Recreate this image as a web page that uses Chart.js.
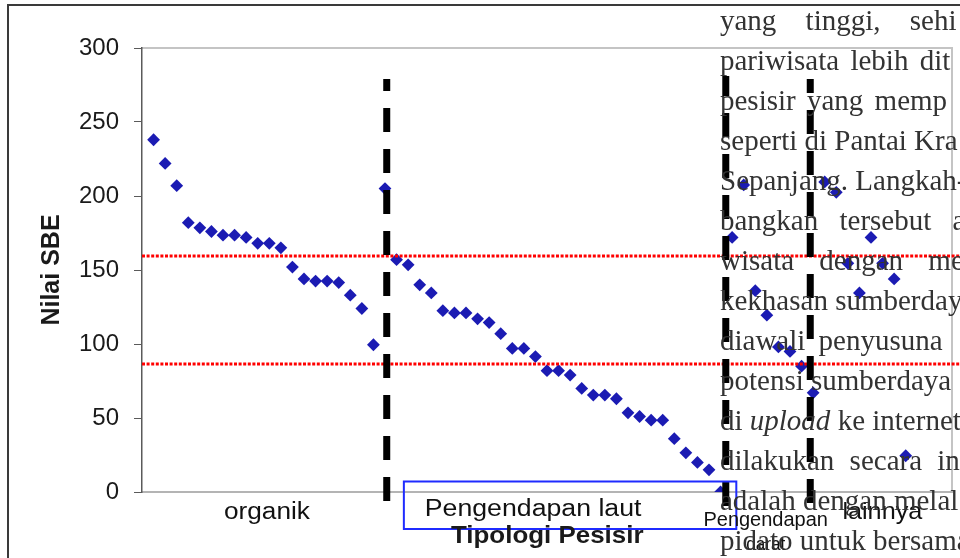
<!DOCTYPE html>
<html>
<head>
<meta charset="utf-8">
<script src="https://cdn.jsdelivr.net/npm/chart.js@4.4.1/dist/chart.umd.min.js"></script>
<style>
  html, body { margin: 0; padding: 0; background: #fff; overflow: hidden; }
  #wrap { position: relative; width: 960px; height: 558px; overflow: hidden; }
  #sbeChart { position: absolute; left: 0; top: 0; }
  #pageText {
    position: absolute; left: 720px; top: 0;
    font-family: 'Liberation Serif', 'Times New Roman', serif;
    font-size: 29px; line-height: 40px; color: #333;
    white-space: pre; pointer-events: none;
  }
</style>
</head>
<body>
<div id="wrap">
  <canvas id="sbeChart" width="960" height="558"></canvas>
  <div id="pageText"><div style="word-spacing:22px">yang tinggi, sehi</div><div style="word-spacing:4px">pariwisata lebih dit</div><div style="word-spacing:4px">pesisir yang memp</div><div>seperti di Pantai Kra</div><div>Sepanjang. Langkah-</div><div style="word-spacing:14px">bangkan tersebut a</div><div style="word-spacing:18px">wisata dengan me</div><div>kekhasan sumberday</div><div style="word-spacing:6px">diawali penyusuna</div><div>potensi sumberdaya</div><div>di <i>upload</i> ke internet,</div><div style="word-spacing:8px">dilakukan secara in</div><div>adalah dengan melal</div><div>pidato untuk bersama</div></div>
</div>
<script>
// Tipologi pesisir and the SBE value of every site, in plotted order
const categories = ['organik', 'Pengendapan laut', 'Pengendapan darat', 'lainnya'];
const organikValues = [238, 222, 207, 182, 178.5, 176, 173.5, 173.5, 172, 168, 168, 165,
  152, 144, 142.5, 142.5, 141.5, 133, 124, 99.5];
const lautValues = [205, 157, 153.5, 140, 134.5, 122.5, 121, 121, 117, 114.5, 107, 97, 97,
  91.5, 82, 82, 79, 70, 65.5, 65.5, 63, 53.5, 51, 48.5, 48.5, 36, 26.5, 20, 15, 0];
const daratValues = [172, 207.5, 136, 119.5, 98, 95, 85, 67];
const lainnyaValues = [209.5, 202.5, 154.5, 134.5, 172, 154.5, 144, 24.5];
const yTicks = [0, 50, 100, 150, 200, 250, 300];
const sbeThresholds = [159.5, 86.5];

// one point per site, x = running site number
const points = [];
[organikValues, lautValues, daratValues, lainnyaValues].forEach(vals => {
  vals.forEach(v => points.push({ x: points.length, y: v }));
});

// drawn extras (in data units on the x axis)
const dividers = [
  { x: 20.15, top: 279, bottom: -12, offset: 12 },
  { x: 49.45, top: 281, bottom: -10, offset: 4 },
  { x: 56.75, top: 279, bottom: -10, offset: 10 }
];
const categoryLabels = [
  { lines: [categories[0]], x: 9.8, dy: [26.5], size: 23, sx: 1.14 },
  { lines: [categories[1]], x: 32.8, dy: [23.5], size: 23, sx: 1.16 },
  { lines: categories[2].split(' '), x: 52.9, dy: [34, 58], size: 20, sx: 1.0 },
  { lines: [categories[3]], x: 62.98, dy: [26.5], size: 24, sx: 1.05 }
];
const SANS = "'Liberation Sans', Arial, sans-serif";

function stretchedText(ctx, text, cx, baseline, font, sx) {
  ctx.save();
  ctx.font = font;
  ctx.translate(cx, baseline);
  ctx.scale(sx, 1);
  ctx.textAlign = 'center';
  ctx.textBaseline = 'alphabetic';
  ctx.fillText(text, 0, 0);
  ctx.restore();
}

const decorations = {
  id: 'decorations',
  beforeDraw(chart) {
    const ctx = chart.ctx;
    const a = chart.chartArea;
    ctx.save();
    // outer frame of the pasted chart
    ctx.strokeStyle = '#3a3a3a';
    ctx.lineWidth = 2;
    ctx.strokeRect(8, 5, 1000, 1000);
    // top and right edges of the plot area
    ctx.strokeStyle = '#c4c4c4';
    ctx.lineWidth = 2;
    ctx.beginPath();
    ctx.moveTo(a.left, a.top);
    ctx.lineTo(a.right, a.top);
    ctx.lineTo(a.right, a.bottom);
    ctx.stroke();
    ctx.restore();
  },
  afterDatasetsDraw(chart) {
    const ctx = chart.ctx;
    const { x, y } = chart.scales;
    ctx.save();
    // red dotted limits
    ctx.strokeStyle = '#ff0000';
    ctx.lineWidth = 3;
    ctx.setLineDash([3, 1.6]);
    sbeThresholds.forEach(t => {
      const py = y.getPixelForValue(t);
      ctx.beginPath();
      ctx.moveTo(chart.chartArea.left, py);
      ctx.lineTo(chart.width, py);
      ctx.stroke();
    });
    // black dashed group dividers
    ctx.strokeStyle = '#000';
    ctx.lineWidth = 7;
    ctx.setLineDash([24, 17]);
    dividers.forEach(d => {
      const px = x.getPixelForValue(d.x);
      ctx.lineDashOffset = d.offset;
      ctx.beginPath();
      ctx.moveTo(px, y.getPixelForValue(d.top));
      ctx.lineTo(px, y.getPixelForValue(d.bottom));
      ctx.stroke();
    });
    ctx.restore();
  },
  afterDraw(chart) {
    const ctx = chart.ctx;
    const { x } = chart.scales;
    const bottom = chart.chartArea.bottom;
    ctx.save();
    // box round "Pengendapan laut"
    ctx.strokeStyle = '#1f2bff';
    ctx.lineWidth = 2;
    const bx0 = x.getPixelForValue(21.63);
    const bx1 = x.getPixelForValue(50.36);
    ctx.strokeRect(bx0, bottom - 10.5, bx1 - bx0, 47.5);
    ctx.fillStyle = '#111';
    categoryLabels.forEach(l => {
      l.lines.forEach((t, i) => {
        const size = i === 0 ? l.size : 18;
        stretchedText(ctx, t, x.getPixelForValue(l.x), bottom + l.dy[i],
          size + 'px ' + SANS, i === 0 ? l.sx : 0.95);
      });
    });
    // axis title of the category axis
    ctx.fillStyle = '#1a1a1a';
    stretchedText(ctx, 'Tipologi Pesisir', x.getPixelForValue(34.02), bottom + 51,
      'bold 24px ' + SANS, 1.08);
    ctx.restore();
  }
};

const ctx = document.getElementById('sbeChart').getContext('2d');
new Chart(ctx, {
  type: 'scatter',
  data: {
    datasets: [{
      label: 'Nilai SBE',
      data: points,
      pointStyle: 'rectRot',
      pointRadius: 6.4,
      pointHoverRadius: 6.4,
      backgroundColor: '#1b1bb3',
      borderColor: '#1b1bb3',
      borderWidth: 0
    }]
  },
  options: {
    responsive: false,
    animation: false,
    events: [],
    layout: { padding: { top: 48, right: 8, left: 0, bottom: 0 } },
    plugins: {
      legend: { display: false },
      tooltip: { enabled: false }
    },
    scales: {
      x: {
        type: 'linear',
        min: -1,
        max: 69,
        ticks: { display: false },
        grid: { display: false },
        border: { display: true, color: '#b4b4b4', width: 2 },
        afterFit: s => { s.height = 66; }
      },
      y: {
        min: 0,
        max: 300,
        afterBuildTicks: s => { s.ticks = yTicks.map(v => ({ value: v })); },
        ticks: {
          padding: 15,
          color: '#1a1a1a',
          font: { family: SANS, size: 24 }
        },
        grid: { drawOnChartArea: false, drawTicks: true, tickLength: 8, color: '#5a5a5a' },
        border: { display: true, color: '#5a5a5a', width: 1.5 },
        title: {
          display: true,
          text: 'Nilai SBE',
          color: '#1a1a1a',
          font: { family: SANS, size: 25, weight: 'bold' },
          padding: { top: 37, bottom: 0 }
        },
        afterFit: s => { s.width = 142; }
      }
    }
  },
  plugins: [decorations]
});
</script>
</body>
</html>
